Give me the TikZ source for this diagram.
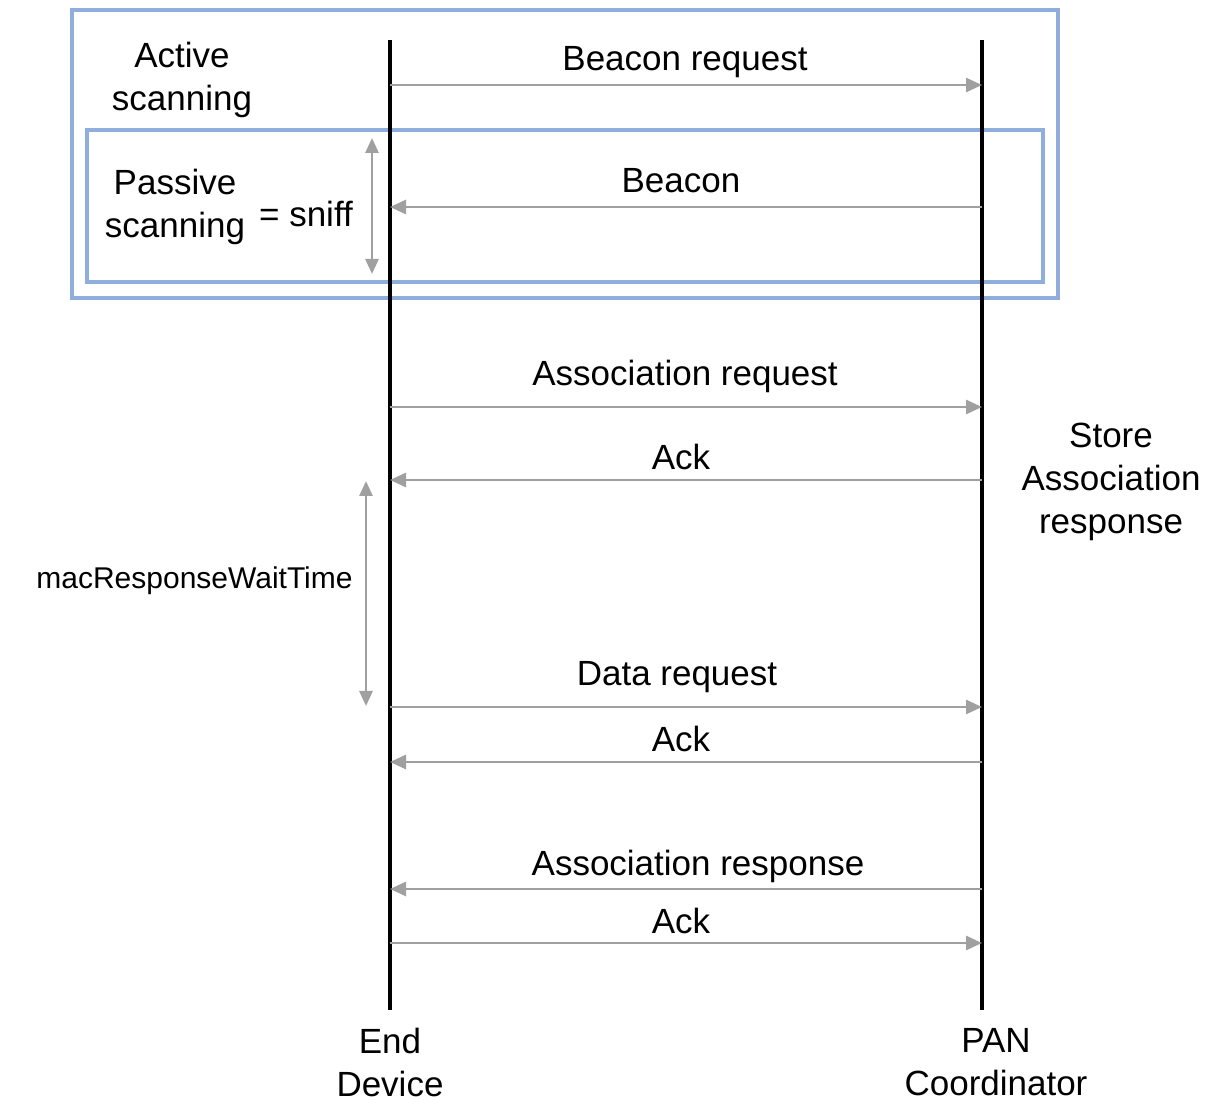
\documentclass[tikz,border=0pt]{standalone}
\usepackage{fontspec}
\setmainfont{Liberation Sans}
\usetikzlibrary{arrows.meta}
\definecolor{boxblue}{HTML}{8FAEDB}
\definecolor{msggray}{HTML}{A0A0A0}
\begin{document}
\begin{tikzpicture}[x=0.5pt,y=-0.5pt,
  lifeline/.style={line width=2pt,black},
  msg/.style={line width=1.4pt,msggray,-{Triangle[length=8pt,width=7pt]}},
  span/.style={line width=1.4pt,msggray,{Triangle[length=7.5pt,width=6.5pt]}-{Triangle[length=7.5pt,width=6.5pt]}},
  frame/.style={line width=1.6pt,boxblue},
  lbl/.style={font=\fontsize{17.5pt}{21.5pt}\selectfont,align=center,inner sep=0pt},
  small/.style={font=\fontsize{15pt}{17pt}\selectfont,inner sep=0pt}]
\useasboundingbox (0,0) rectangle (1212,1101);
% frames
\draw[frame] (72,10) rectangle (1058,298);
\draw[frame] (87,130) rectangle (1043,282);
% lifelines
\coordinate (ed top) at (390,40);
\coordinate (ed bot) at (390,1010);
\coordinate (pc top) at (982,40);
\coordinate (pc bot) at (982,1010);
\draw[lifeline] (ed top) -- (ed bot);
\draw[lifeline] (pc top) -- (pc bot);
% message endpoints
\foreach \n/\y in {m1/85,m2/207,m3/407,m4/480,m5/707,m6/762,m7/889,m8/943}{
  \coordinate (\n e) at (390,\y);
  \coordinate (\n p) at (982,\y);
}
\draw[msg] (m1e) -- (m1p);
\draw[msg] (m2p) -- (m2e);
\draw[msg] (m3e) -- (m3p);
\draw[msg] (m4p) -- (m4e);
\draw[msg] (m5e) -- (m5p);
\draw[msg] (m6p) -- (m6e);
\draw[msg] (m7p) -- (m7e);
\draw[msg] (m8e) -- (m8p);
% labels
\node[lbl] (t1) at (685,62) {Beacon request};
\node[lbl] (t2) at (681,181) {Beacon};
\node[lbl] (t3) at (685,376) {Association request};
\node[lbl] (t4) at (681,457) {Ack};
\node[lbl] (t5) at (677,677) {Data request};
\node[lbl] (t6) at (681,739) {Ack};
\node[lbl] (t7) at (698,866) {Association response};
\node[lbl] (t8) at (681,921) {Ack};
\node[lbl] (active) at (182,80) {Active\\scanning};
\node[lbl] (passive) at (175,207) {Passive\\scanning};
\node[lbl] (sniff) at (306,214) {= sniff};
\node[lbl] (store) at (1111,482) {Store\\Association\\response};
\node[lbl] (ed) at (390,1062) {End\\Device};
\node[lbl] (pc) at (996,1062) {PAN\\Coordinator};
% spans
\coordinate (s1a) at (372,138);
\coordinate (s1b) at (372,274);
\draw[span] (s1a) -- (s1b);
\coordinate (s2a) at (366,481);
\coordinate (s2b) at (366,706);
\draw[span] (s2a) -- (s2b);
\node[small,anchor=east] (wait) at (353,581) {macResponseWaitTime};
\end{tikzpicture}
\end{document}
